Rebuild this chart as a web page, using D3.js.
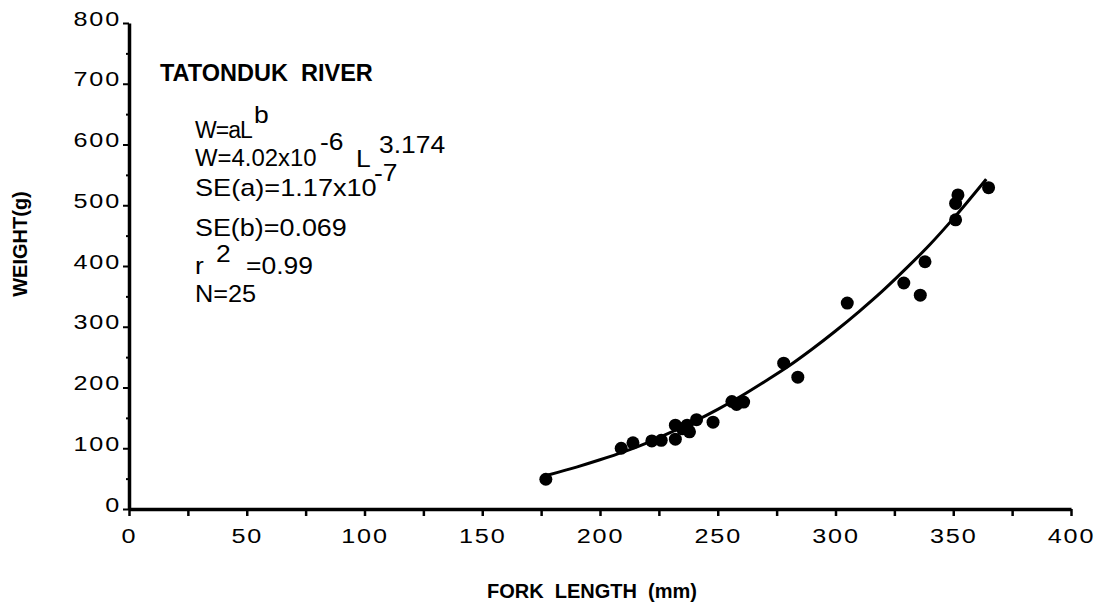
<!DOCTYPE html>
<html>
<head>
<meta charset="utf-8">
<script src="https://cdn.jsdelivr.net/npm/d3@7"></script>
<style>
  body { margin: 0; background: #fff; }
  text { font-family: "Liberation Sans", Arial, Helvetica, sans-serif; fill: #000; white-space: pre; }
</style>
</head>
<body>
<svg id="chart" width="1099" height="609"></svg>
<script>
// ---- data ----
const forkLength = [177, 209, 214, 222, 226, 232, 232, 235, 237, 238, 241, 248, 256, 258, 261, 278, 284, 305, 329, 336, 338, 351, 351, 352, 365];
const weight     = [ 49, 100, 109, 112, 113, 138, 115, 132, 138, 127, 147, 143, 177, 172, 176, 240, 217, 339, 372, 352, 407, 476, 503, 517, 529];

// fitted curve W = 4.02e-6 L^3.174, as traced on the picture
const fitLength = [178, 190, 200, 210, 220, 230, 240, 250, 260, 270, 280, 290, 300, 310, 320, 330, 340, 350, 364];
const fitWeight = [ 56,  69,  81,  94, 109, 126, 144, 164, 186, 210, 235, 263, 293, 325, 359, 396, 435, 478, 543];

const xMajorTicks = [0, 50, 100, 150, 200, 250, 300, 350, 400];
const xMinorTicks = [25, 75, 125, 175, 225, 275, 325, 375];
const yMajorTicks = [0, 100, 200, 300, 400, 500, 600, 700, 800];
const yMinorTicks = [50, 150, 250, 350, 450, 550, 650, 750];

const title = "TATONDUK  RIVER";
const xTitle = "FORK  LENGTH  (mm)";
const yTitle = "WEIGHT(g)";
const eqLines = ["W=aL", "W=4.02x10", "SE(a)=1.17x10", "SE(b)=0.069", "r", "N=25"];

// ---- layout ----
const svg = d3.select("#chart");
const x = d3.scaleLinear().domain([0, 400]).range([129, 1071]);
const y = d3.scaleLinear().domain([0, 800]).range([509, 23]);

const TICK_FONT = 21, TICK_SX = 1.2;

// x axis
const gx = svg.append("g").attr("transform", `translate(0,${y(0)})`)
  .call(d3.axisBottom(x).tickValues(xMajorTicks.concat(xMinorTicks)).tickSize(7).tickSizeOuter(0)
    .tickFormat(d => xMajorTicks.includes(d) ? String(d) : ""));
gx.select(".domain").attr("stroke-width", 3.5).attr("stroke", "#000");
gx.selectAll(".tick line").attr("stroke-width", 2.5).attr("stroke", "#000");
gx.selectAll(".tick text")
  .attr("y", null).attr("dy", null)
  .attr("transform", `translate(0,34) scale(${TICK_SX},1)`)
  .attr("font-size", TICK_FONT).attr("font-family", null)
  .style("letter-spacing", "1.5px");

// y axis
const gy = svg.append("g").attr("transform", `translate(${x(0)},0)`)
  .call(d3.axisLeft(y).tickValues(yMajorTicks).tickSize(6).tickSizeOuter(0));
gy.select(".domain").attr("stroke-width", 3.5).attr("stroke", "#000");
gy.selectAll(".tick line").attr("stroke-width", 2).attr("stroke", "#000");
gy.selectAll(".tick text")
  .attr("x", null).attr("dy", null)
  .attr("transform", `translate(-8,2) scale(${TICK_SX},1)`)
  .attr("font-size", TICK_FONT).attr("font-family", null)
  .style("letter-spacing", "1.5px");

const gyMinor = svg.append("g").attr("transform", `translate(${x(0)},0)`)
  .call(d3.axisLeft(y).tickValues(yMinorTicks).tickSize(3).tickSizeOuter(0).tickFormat(""));
gyMinor.select(".domain").remove();
gyMinor.selectAll(".tick line").attr("stroke-width", 2).attr("stroke", "#000");

// fitted curve
const fit = fitLength.map((d, i) => [d, fitWeight[i]]);
svg.append("path")
  .attr("d", d3.line().x(d => x(d[0])).y(d => y(d[1])).curve(d3.curveMonotoneX)(fit))
  .attr("fill", "none").attr("stroke", "#000").attr("stroke-width", 3);

// points
svg.append("g").selectAll("circle")
  .data(forkLength.map((d, i) => [d, weight[i]]))
  .join("circle")
  .attr("cx", d => x(d[0])).attr("cy", d => y(d[1])).attr("r", 6.5).attr("fill", "#000");

// text helper
function txt(str, px, py, size, o = {}) {
  return svg.append("text")
    .attr("transform", `translate(${px},${py})${o.rot ? ` rotate(${o.rot})` : ""} scale(${o.sx || 1},1)`)
    .attr("font-size", size)
    .attr("font-weight", o.bold ? "bold" : null)
    .attr("text-anchor", o.anchor || "start")
    .style("letter-spacing", o.ls ? o.ls + "px" : null)
    .text(str);
}

// titles
txt(title, 160, 81, 23.5, { bold: true });
txt(xTitle, 592, 598, 20, { bold: true, anchor: "middle" });
txt(yTitle, 27, 244, 20, { bold: true, anchor: "middle", rot: -90 });

// equation block
const EQ = 23, SX = 1.15;
txt(eqLines[0], 195, 138, EQ, { ls: -1 });
txt("b", 254, 123, EQ, { sx: SX });
txt(eqLines[1], 195, 166, EQ, { sx: 1.04 });
txt("-6", 320, 150, EQ, { sx: SX });
txt("L", 356, 167, EQ, { sx: SX });
txt("3.174", 379, 153, EQ, { sx: SX });
txt(eqLines[2], 195, 196, EQ, { sx: 1.18 });
txt("-7", 374, 181, EQ, { sx: SX });
txt(eqLines[3], 195, 236, EQ, { sx: 1.17 });
txt(eqLines[4], 195, 274, EQ, { sx: SX });
txt("2", 216, 262, EQ, { sx: SX });
txt("=0.99", 246, 274, EQ, { sx: SX });
txt(eqLines[5], 195, 302, EQ, { sx: 1.1 });
</script>
</body>
</html>
